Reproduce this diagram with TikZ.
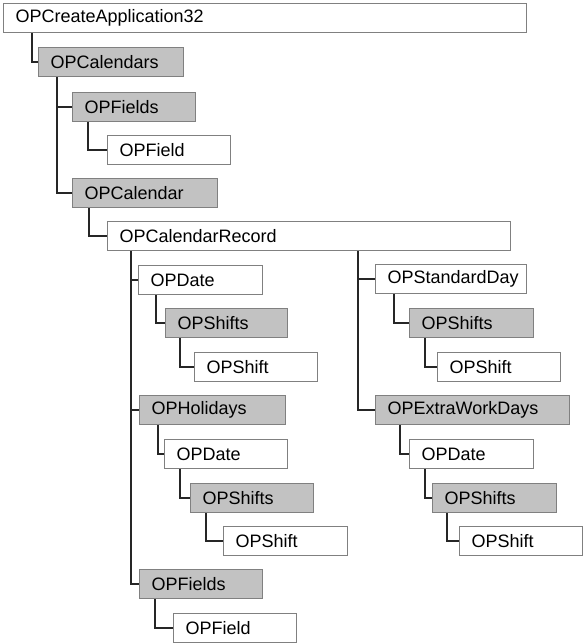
\documentclass[tikz,border=0pt]{standalone}
\usepackage{fontspec}
\setmainfont{Liberation Sans}
\definecolor{boxline}{RGB}{128,128,128}
\definecolor{boxfill}{RGB}{194,194,194}

\begin{document}
\begin{tikzpicture}[
  x=1pt, y=-1pt,
  font=\fontsize{18}{20}\selectfont,
  box/.style = {draw=boxline, line width=1.3pt, anchor=north west,
    minimum height=29pt, inner xsep=12pt, inner ysep=0pt, align=left},
  bw/.code = {\pgfmathsetmacro\tw{#1-25.3}\pgfkeysalso{text width=\tw pt}},
  wbox/.style = {box, fill=white},
  gbox/.style = {box, fill=boxfill},
  link/.style = {draw=black!85, line width=1.6pt}]
  \useasboundingbox (0,0) rectangle (584,643);

  % koren a kalendare
  \node[wbox, bw=524] (app)   at (3,3)     {OPCreateApplication32};
  \node[gbox, bw=146] (cals)  at (38,47)   {OPCalendars};
  \node[gbox, bw=124] (flds)  at (72,92)   {OPFields};
  \node[wbox, bw=124] (fld)   at (107,135) {OPField};
  \node[gbox, bw=146] (cal)   at (72,178)  {OPCalendar};
  \node[wbox, bw=404] (rec)   at (107,221) {OPCalendarRecord};

  % lava vetva
  \node[wbox, bw=125] (date)  at (138,265) {OPDate};
  \node[gbox, bw=123] (shs)   at (165,308) {OPShifts};
  \node[wbox, bw=124] (sh)    at (194,352) {OPShift};
  \node[gbox, bw=147] (hol)   at (139,395) {OPHolidays};
  \node[wbox, bw=124] (date2) at (164,439) {OPDate};
  \node[gbox, bw=124] (shs2)  at (190,483) {OPShifts};
  \node[wbox, bw=125] (sh2)   at (223,526) {OPShift};
  \node[gbox, bw=124] (flds2) at (139,569) {OPFields};
  \node[wbox, bw=124] (fld2)  at (173,613) {OPField};

  % prava vetva
  \node[wbox, bw=152] (std)   at (375,264) {OPStandardDay};
  \node[gbox, bw=125] (shs3)  at (409,308) {OPShifts};
  \node[wbox, bw=124] (sh3)   at (437,352) {OPShift};
  \node[gbox, bw=195] (xwd)   at (375,395) {OPExtraWorkDays};
  \node[wbox, bw=125] (date3) at (409,439) {OPDate};
  \node[gbox, bw=125] (shs4)  at (432,483) {OPShifts};
  \node[wbox, bw=124] (sh4)   at (459,526) {OPShift};

  % spojnice
  \foreach \p/\c/\s in {app/cals/29, cals/flds/19, cals/cal/19, flds/fld/16,
      cal/rec/17, rec/date/24, rec/hol/24, rec/flds2/24, rec/std/251,
      rec/xwd/251, date/shs/18, shs/sh/15, hol/date2/19, date2/shs2/16,
      shs2/sh2/16, flds2/fld2/16, std/shs3/19, shs3/sh3/16, xwd/date3/25,
      date3/shs4/16, shs4/sh4/15}
    \draw[link] ([xshift=\s pt]\p.south west) |- (\c.west);

\end{tikzpicture}
\end{document}
